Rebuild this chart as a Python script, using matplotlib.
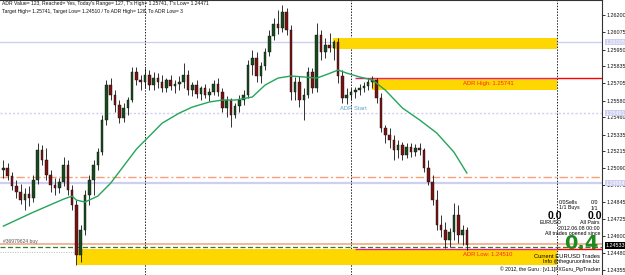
import matplotlib
matplotlib.use("Agg")
import matplotlib.pyplot as plt
from matplotlib.patches import Rectangle

plt.rcParams["font.family"] = ["Liberation Sans", "DejaVu Sans"]

# EURUSD M30 candles
opens = [1.25078, 1.25093, 1.25035, 1.24962, 1.24919, 1.24861, 1.24904, 1.24875, 1.25006, 1.25223,
         1.25151, 1.25042, 1.24970, 1.24948, 1.24991, 1.25114, 1.24933, 1.24825, 1.24463, 1.24644,
         1.24897, 1.25006, 1.25114, 1.25208, 1.25441, 1.25694, 1.25621, 1.25549, 1.25455, 1.25527,
         1.25585, 1.25788, 1.25730, 1.25715, 1.25766, 1.25694, 1.25744, 1.25715, 1.25672, 1.25730,
         1.25686, 1.25701, 1.25715, 1.25766, 1.25657, 1.25694, 1.25628, 1.25672, 1.25621, 1.25643,
         1.25701, 1.25643, 1.25527, 1.25585, 1.25476, 1.25541, 1.25585, 1.25621, 1.25838, 1.25889,
         1.25759, 1.25831, 1.25932, 1.26048, 1.26135, 1.26106, 1.26222, 1.26092, 1.25643, 1.25715,
         1.25585, 1.25621, 1.25788, 1.25672, 1.26056, 1.25932, 1.25983, 1.25961, 1.26005, 1.25759,
         1.25599, 1.25621, 1.25643, 1.25657, 1.25672, 1.25686, 1.25715, 1.25730, 1.25599, 1.25382,
         1.25332, 1.25295, 1.25223, 1.25259, 1.25187, 1.25245, 1.25208, 1.25237, 1.25223, 1.25093,
         1.24991, 1.24861, 1.24680, 1.24644, 1.24571, 1.24629, 1.24752, 1.24608, 1.24644]
highs = [1.25151, 1.25129, 1.25064, 1.25006, 1.24977, 1.24948, 1.24962, 1.25042, 1.25274, 1.25259,
         1.25237, 1.25078, 1.25020, 1.25020, 1.25172, 1.25151, 1.24970, 1.24861, 1.24680, 1.24933,
         1.25042, 1.25151, 1.25237, 1.25476, 1.25730, 1.25744, 1.25657, 1.25585, 1.25563, 1.25607,
         1.25824, 1.25824, 1.25766, 1.25817, 1.25802, 1.25788, 1.25780, 1.25766, 1.25744, 1.25766,
         1.25730, 1.25759, 1.25853, 1.25802, 1.25715, 1.25730, 1.25686, 1.25701, 1.25672, 1.25730,
         1.25744, 1.25672, 1.25614, 1.25599, 1.25563, 1.25621, 1.25657, 1.25875, 1.25947, 1.25932,
         1.25860, 1.25961, 1.26092, 1.26179, 1.26237, 1.26273, 1.26251, 1.26128, 1.25752, 1.25759,
         1.25672, 1.25824, 1.25817, 1.26142, 1.26092, 1.26034, 1.26070, 1.26019, 1.26034, 1.25802,
         1.25672, 1.25672, 1.25679, 1.25701, 1.25715, 1.25744, 1.25759, 1.25744, 1.25636, 1.25404,
         1.25382, 1.25332, 1.25295, 1.25281, 1.25274, 1.25274, 1.25266, 1.25274, 1.25237, 1.25151,
         1.25042, 1.24933, 1.24752, 1.24702, 1.24658, 1.24839, 1.24825, 1.24680, 1.24666]
lows = [1.25020, 1.25006, 1.24933, 1.24875, 1.24832, 1.24789, 1.24817, 1.24847, 1.24977, 1.25114,
        1.25006, 1.24919, 1.24897, 1.24912, 1.24962, 1.24897, 1.24789, 1.24390, 1.24412, 1.24608,
        1.24825, 1.24897, 1.25078, 1.25187, 1.25404, 1.25585, 1.25498, 1.25418, 1.25426, 1.25476,
        1.25571, 1.25694, 1.25657, 1.25672, 1.25657, 1.25657, 1.25672, 1.25643, 1.25643, 1.25657,
        1.25636, 1.25657, 1.25672, 1.25621, 1.25614, 1.25599, 1.25585, 1.25599, 1.25578, 1.25621,
        1.25614, 1.25498, 1.25462, 1.25389, 1.25455, 1.25498, 1.25549, 1.25599, 1.25766, 1.25715,
        1.25708, 1.25802, 1.25904, 1.26019, 1.26063, 1.26077, 1.26056, 1.25585, 1.25585, 1.25534,
        1.25441, 1.25599, 1.25636, 1.25643, 1.25875, 1.25889, 1.25932, 1.25875, 1.25708, 1.25563,
        1.25556, 1.25585, 1.25599, 1.25621, 1.25643, 1.25657, 1.25672, 1.25563, 1.25353, 1.25274,
        1.25237, 1.25151, 1.25165, 1.25151, 1.25165, 1.25172, 1.25180, 1.25187, 1.25064, 1.24970,
        1.24825, 1.24644, 1.24593, 1.24514, 1.24521, 1.24571, 1.24550, 1.24535, 1.24499]
closes = [1.25093, 1.25035, 1.24962, 1.24919, 1.24861, 1.24904, 1.24875, 1.25006, 1.25223, 1.25151,
          1.25042, 1.24970, 1.24948, 1.24991, 1.25114, 1.24933, 1.24825, 1.24463, 1.24644, 1.24897,
          1.25006, 1.25114, 1.25208, 1.25441, 1.25694, 1.25621, 1.25549, 1.25455, 1.25527, 1.25585,
          1.25788, 1.25730, 1.25715, 1.25766, 1.25694, 1.25744, 1.25715, 1.25672, 1.25730, 1.25686,
          1.25701, 1.25715, 1.25766, 1.25657, 1.25694, 1.25628, 1.25672, 1.25621, 1.25643, 1.25701,
          1.25643, 1.25527, 1.25585, 1.25476, 1.25541, 1.25585, 1.25621, 1.25838, 1.25889, 1.25759,
          1.25831, 1.25932, 1.26048, 1.26135, 1.26106, 1.26222, 1.26092, 1.25643, 1.25715, 1.25585,
          1.25621, 1.25788, 1.25672, 1.26056, 1.25932, 1.25983, 1.25961, 1.26005, 1.25759, 1.25599,
          1.25621, 1.25643, 1.25657, 1.25672, 1.25686, 1.25715, 1.25730, 1.25599, 1.25382, 1.25332,
          1.25295, 1.25223, 1.25259, 1.25187, 1.25245, 1.25208, 1.25237, 1.25223, 1.25093, 1.24991,
          1.24861, 1.24680, 1.24644, 1.24571, 1.24629, 1.24752, 1.24608, 1.24644, 1.24533]

# moving average, sampled along the green line
ma_idx = [0, 7, 14, 16, 17, 19, 22, 25, 31, 34, 37, 41, 44, 48, 51, 54, 58, 61, 64, 67,
          70, 73, 75, 78, 80, 83, 86, 89, 93, 97, 101, 105, 108]
ma_val = [1.24673, 1.24774, 1.24868, 1.24890, 1.24861, 1.24847, 1.24890, 1.24984, 1.25230, 1.25324,
          1.25418, 1.25491, 1.25534, 1.25571, 1.25585, 1.25585, 1.25607, 1.25694, 1.25744, 1.25759,
          1.25752, 1.25744, 1.25766, 1.25802, 1.25780, 1.25752, 1.25730, 1.25657, 1.25527, 1.25441,
          1.25346, 1.25208, 1.25057]

price_ticks = [1.26200, 1.26075, 1.25950, 1.25835, 1.25705, 1.25580, 1.25460, 1.25335,
               1.25215, 1.25090, 1.24970, 1.24845, 1.24725, 1.24600, 1.24480, 1.24355]
day_starts = [33, 81, 129]

adr_high = 1.25741
adr_low = 1.24510
adr_start = 81

header = ["ADR Value= 123, Reached= Yes, Today's Range= 127, T's High= 1.25741, T's Low= 1.24471",
          "Target High= 1.25741, Target Low= 1.24510 / To ADR High= 128, To ADR Low= 3"]

W, H = 625, 275
fig = plt.figure(figsize=(W / 100, H / 100), dpi=100)
ax = fig.add_axes([0, 0, 602 / W, 1])
x_left, x_right = -0.8, 139.5
ax.set_xlim(x_left, x_right)
ax.set_ylim(1.24319, 1.26309)

lav = "#cfcff2"
# horizontal levels
ax.axhline(1.26005, color=lav, lw=1.0, zorder=1)
ax.axhline(1.25491, color=lav, lw=1.0, ls=(0, (1.5, 1.5)), zorder=1)
ax.axhline(1.24984, color=lav, lw=1.6, zorder=1)
ax.axhline(1.25028, color="#f7a07a", lw=1.0, ls=(0, (6, 2, 1.5, 2)), zorder=1)
ax.axhline(1.24542, color="#f5a886", lw=1.2, zorder=1)
ax.axhline(1.24521, color="#2e7d32", lw=0.9, ls=(0, (4, 2)), zorder=1)
ax.hlines(1.24485, x_left, 17, color="#bbbbbb", lw=0.7, ls=(0, (1, 1.5)), zorder=1)

# yellow zones
gold = "#ffd700"
ax.add_patch(Rectangle((76.8, 1.25954), 129 - 76.8, 1.26034 - 1.25954, color=gold, lw=0, zorder=1.5))
ax.add_patch(Rectangle((85.9, 1.25657), 129 - 85.9, adr_high - 1.25657, color=gold, lw=0, zorder=1.5))
ax.add_patch(Rectangle((17.2, 1.24390), 129 - 17.2, adr_low - 1.24390, color=gold, lw=0, zorder=1.5))

# ADR lines
ax.hlines([adr_high, adr_low], adr_start + 1, 129, color="#e8207a", lw=1.0, zorder=2)
ax.hlines([adr_high, adr_low - 0.00004], 129, x_right, color="#ff0000", lw=1.0, zorder=2)

# day separators
for d in day_starts:
    ax.axvline(d, color="#222222", lw=0.7, ls=(0, (1.5, 1.5)), zorder=1)

# candles
idx = list(range(len(closes)))
ax.vlines(idx, lows, highs, color="#111111", lw=0.6, zorder=3)
for i in idx:
    o, c = opens[i], closes[i]
    col = "#174a1c" if c >= o else "#7a1212"
    ax.add_patch(Rectangle((i - 0.3, min(o, c)), 0.6, max(abs(c - o), 0.00002),
                           facecolor=col, edgecolor="#111111", lw=0.3, zorder=4))

ax.plot(ma_idx, ma_val, color="#23a559", lw=1.0, zorder=5)

# chart texts
ax.text(107.1, 1.25708, "ADR High: 1.25741", color="#ff2020", fontsize=4.2, va="center", zorder=6)
ax.text(107.1, 1.24470, "ADR Low: 1.24510", color="#ff2020", fontsize=4.2, va="center", zorder=6)
ax.text(81.5, 1.25527, "ADR Start", color="#5aa0c8", fontsize=4.2, ha="center", va="center", zorder=6)
ax.text(0, 1.24565, "#36979624 buy", color="#555555", fontsize=3.6, va="center", zorder=6)

# price axis
ax.yaxis.tick_right()
ax.set_yticks(price_ticks)
ax.set_yticklabels(["%.5f" % p for p in price_ticks])
ax.tick_params(axis="y", labelsize=3.9, length=2, width=0.6, pad=1, colors="#111111")
ax.set_xticks([])
for s in ["left", "bottom"]:
    ax.spines[s].set_visible(False)
for s in ["right", "top"]:
    ax.spines[s].set_color("#333333")
    ax.spines[s].set_linewidth(0.8)

for p, fc, tc in [(1.26005, lav, "white"), (1.25491, lav, "white"),
                  (1.24984, lav, "white"), (closes[-1], "black", "white")]:
    ax.text(1.006, p, "%.5f" % p, transform=ax.get_yaxis_transform(), fontsize=3.9,
            color=tc, va="center", ha="left", clip_on=False,
            bbox=dict(boxstyle="square,pad=0.15", fc=fc, ec="none"), zorder=7)

# header lines
def px(x, y):
    return x / W, 1 - y / H

for k, line in enumerate(header):
    fig.text(*px(2, 4 + k * 7), line, fontsize=3.6, va="center", color="#111111")

# info panel
info = [(559, 202, "0/0Sells", 3.8, "normal", "black", "left"),
        (598, 202, "0/0", 3.8, "normal", "black", "right"),
        (559, 208, "1/1 Buys", 3.8, "normal", "black", "left"),
        (598, 208, "1/1", 3.8, "normal", "black", "right"),
        (555, 216, "0.0", 7.5, "bold", "black", "center"),
        (595, 216, "0.0", 7.5, "bold", "black", "center"),
        (551, 223, "EURUSD", 3.8, "normal", "black", "center"),
        (600, 223, "All Pairs", 3.8, "normal", "black", "right"),
        (600, 228, "2012.06.08 00:00", 3.8, "normal", "black", "right"),
        (600, 233, "All trades opened since", 3.8, "normal", "black", "right"),
        (600, 256, "Current EURUSD Trades", 4.2, "normal", "black", "right"),
        (600, 262, "Info @theguruonline.biz", 3.8, "normal", "black", "right"),
        (600, 269, "\u00a9 2012, the Guru : [v1.1]FXGuru_PipTracker", 3.6, "normal", "black", "right")]
for x, y, s, fs, fw, col, ha in info:
    fig.text(*px(x, y), s, fontsize=fs, fontweight=fw, color=col, ha=ha, va="center", zorder=8)
fig.text(*px(581, 243.5), "0.4", fontsize=14, fontweight="bold", color="#1e8b1e",
         ha="center", va="center", family="DejaVu Sans", zorder=8)

fig.savefig("out.png", dpi=100, facecolor="white")
